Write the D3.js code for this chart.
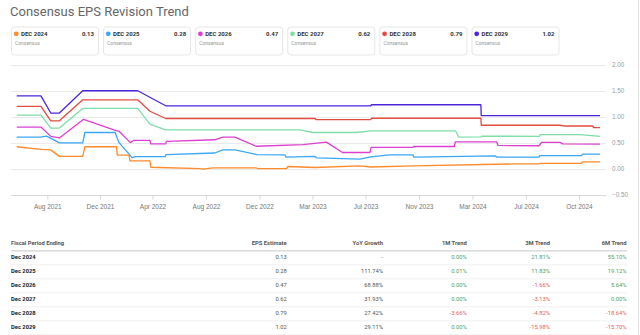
<!DOCTYPE html>
<html>
<head>
<meta charset="utf-8">
<script src="https://cdn.jsdelivr.net/npm/d3@7/dist/d3.min.js"></script>
<style>
  body { margin: 0; background: #fff; }
  svg { font-family: Roboto, "Noto Sans", Arial, sans-serif; display: block; }
</style>
</head>
<body>
<div id="chart"></div>
<script>
const width = 640;
const height = 335;

// consensus estimate history per fiscal year: [date, EPS]
const dec2024 = [
    ["2021-05-21", 0.42], ["2021-07-17", 0.37], ["2021-08-09", 0.36], ["2021-08-29", 0.235],
    ["2021-10-22", 0.235], ["2021-10-27", 0.42], ["2022-01-08", 0.42], ["2022-01-10", 0.26],
    ["2022-02-06", 0.26], ["2022-02-08", 0.15], ["2022-03-26", 0.15], ["2022-03-28", 0.025],
    ["2022-07-18", 0.0], ["2022-07-25", -0.01], ["2022-08-17", 0.015], ["2022-11-23", 0.015],
    ["2022-11-26", 0.0], ["2023-01-16", 0.0], ["2023-01-18", 0.04], ["2023-03-07", 0.02],
    ["2023-06-18", 0.05], ["2023-07-13", 0.03], ["2023-10-18", 0.05], ["2024-06-06", 0.09],
    ["2024-07-24", 0.09], ["2024-07-25", 0.10], ["2024-10-05", 0.10], ["2024-10-07", 0.13],
    ["2024-11-05", 0.13]
];
const dec2025 = [
    ["2021-05-21", 0.605], ["2021-07-17", 0.605], ["2021-07-30", 0.625], ["2021-08-29", 0.495],
    ["2021-10-22", 0.495], ["2021-10-27", 0.695], ["2022-01-05", 0.695], ["2022-01-13", 0.51],
    ["2022-02-13", 0.21], ["2022-02-20", 0.23], ["2022-04-30", 0.23], ["2022-05-02", 0.27],
    ["2022-08-21", 0.30], ["2022-09-08", 0.36], ["2022-10-06", 0.36], ["2022-11-25", 0.27],
    ["2023-01-13", 0.265], ["2023-01-15", 0.22], ["2023-03-07", 0.235], ["2023-03-11", 0.205],
    ["2023-06-18", 0.18], ["2023-07-13", 0.225], ["2023-08-26", 0.265], ["2023-10-18", 0.265],
    ["2023-10-20", 0.22], ["2024-04-21", 0.245], ["2024-04-26", 0.22], ["2024-07-24", 0.22],
    ["2024-07-25", 0.25], ["2024-10-05", 0.25], ["2024-10-07", 0.28], ["2024-11-05", 0.28]
];
const dec2026 = [
    ["2021-05-21", 0.80], ["2021-07-17", 0.80], ["2021-08-09", 0.62], ["2021-08-29", 0.59],
    ["2021-10-24", 0.95], ["2022-01-07", 0.73], ["2022-01-14", 0.72], ["2022-02-09", 0.50],
    ["2022-02-17", 0.545], ["2022-03-26", 0.545], ["2022-03-28", 0.475], ["2022-05-01", 0.475],
    ["2022-05-03", 0.525], ["2022-08-21", 0.555], ["2022-09-08", 0.605], ["2022-10-06", 0.605],
    ["2022-11-23", 0.43], ["2023-02-13", 0.46], ["2023-04-02", 0.51], ["2023-05-09", 0.31],
    ["2023-07-11", 0.31], ["2023-07-14", 0.41], ["2023-10-18", 0.41], ["2023-10-20", 0.425],
    ["2024-01-20", 0.425], ["2024-01-22", 0.515], ["2024-04-25", 0.515], ["2024-04-28", 0.445],
    ["2024-07-24", 0.44], ["2024-07-28", 0.505], ["2024-08-29", 0.505], ["2024-09-03", 0.475],
    ["2024-11-05", 0.47]
];
const dec2027 = [
    ["2021-05-21", 1.03], ["2021-07-17", 1.03], ["2021-08-09", 0.78], ["2021-08-29", 0.78],
    ["2021-10-22", 1.16], ["2022-02-26", 1.16], ["2022-03-26", 0.855], ["2022-05-01", 0.745],
    ["2023-02-08", 0.745], ["2023-03-02", 0.695], ["2023-06-10", 0.695], ["2023-07-13", 0.725],
    ["2024-01-23", 0.725], ["2024-01-30", 0.605], ["2024-03-21", 0.61], ["2024-03-22", 0.625],
    ["2024-07-24", 0.62], ["2024-07-26", 0.655], ["2024-10-03", 0.655], ["2024-11-05", 0.62]
];
const dec2028 = [
    ["2021-05-21", 1.20], ["2021-07-17", 1.20], ["2021-08-09", 0.92], ["2021-08-29", 0.92],
    ["2021-10-22", 1.325], ["2022-02-26", 1.325], ["2022-03-26", 1.105], ["2022-05-01", 0.965],
    ["2023-03-07", 0.965], ["2023-03-09", 0.945], ["2023-07-13", 0.945], ["2023-07-15", 0.97],
    ["2024-03-20", 0.97], ["2024-03-21", 0.835], ["2024-08-29", 0.835], ["2024-09-07", 0.82],
    ["2024-10-24", 0.82], ["2024-10-25", 0.79], ["2024-11-05", 0.79]
];
const dec2029 = [
    ["2021-05-21", 1.40], ["2021-07-17", 1.40], ["2021-08-09", 1.07], ["2021-08-29", 1.07],
    ["2021-10-22", 1.50], ["2022-02-26", 1.50], ["2022-05-01", 1.21], ["2023-07-13", 1.21],
    ["2023-07-15", 1.23], ["2024-03-20", 1.23], ["2024-03-21", 1.02], ["2024-11-05", 1.02]
];

const seriesNames = ["DEC 2024", "DEC 2025", "DEC 2026", "DEC 2027", "DEC 2028", "DEC 2029"];
const seriesColors = ["#ff8a2b", "#3aa6f4", "#de3fd2", "#7edea9", "#e24c3f", "#4c24de"];
const seriesData = [dec2024, dec2025, dec2026, dec2027, dec2028, dec2029];

// axis break points (first / last are the ends of the data)
const axisDates = ["2021-05-21", "2021-08-01", "2021-12-01", "2022-04-01", "2022-08-01",
    "2022-12-01", "2023-03-01", "2023-07-01", "2023-11-01", "2024-03-01", "2024-07-01",
    "2024-10-01", "2024-11-05"];
const tickDates = axisDates.slice(1, -1);
const yTicks = [-0.5, 0, 0.5, 1, 1.5, 2];

// table
const periods = ["Dec 2024", "Dec 2025", "Dec 2026", "Dec 2027", "Dec 2028", "Dec 2029"];
const epsEstimate = [0.13, 0.28, 0.47, 0.62, 0.79, 1.02];
const yoyGrowth = [null, 111.74, 68.88, 31.93, 27.42, 29.11];
const trend1M = [0.00, 0.01, 0.00, 0.00, -3.66, 0.00];
const trend3M = [21.81, 11.83, -1.66, -3.13, -4.82, -15.98];
const trend6M = [55.10, 19.12, 5.64, 0.00, -18.64, -15.70];

const parse = d3.timeParse("%Y-%m-%d");

const svg = d3.select("#chart")
    .append("svg")
    .attr("width", width)
    .attr("height", height);

svg.append("rect").attr("width", width).attr("height", height).attr("fill", "#fff");

// page edge on the right
svg.append("line")
    .attr("x1", 638.5).attr("x2", 638.5)
    .attr("y1", 0).attr("y2", height)
    .attr("stroke", "#e3e3e3");

svg.append("text")
    .attr("x", 10)
    .attr("y", 15.5)
    .attr("font-size", 13)
    .attr("fill", "#666")
    .text("Consensus EPS Revision Trend");

// legend cards
const cards = svg.append("g")
    .selectAll("g")
    .data(seriesNames)
    .join("g")
    .attr("transform", (d, i) => "translate(" + (11.5 + i * 92.1) + ",27)");

cards.append("rect")
    .attr("width", 87)
    .attr("height", 28)
    .attr("rx", 3)
    .attr("fill", "#fff")
    .attr("stroke", "#e6e6e6");

cards.append("circle")
    .attr("cx", 4.7)
    .attr("cy", 6.8)
    .attr("r", 2.4)
    .attr("fill", (d, i) => seriesColors[i]);

cards.append("text")
    .attr("x", 9.5)
    .attr("y", 8.9)
    .attr("font-size", 6)
    .attr("font-weight", "bold")
    .attr("fill", "#333")
    .text(d => d);

cards.append("text")
    .attr("x", 82.5)
    .attr("y", 8.9)
    .attr("text-anchor", "end")
    .attr("font-size", 6)
    .attr("font-weight", "bold")
    .attr("fill", "#333")
    .text((d, i) => epsEstimate[i].toFixed(2));

cards.append("text")
    .attr("x", 3.5)
    .attr("y", 17.5)
    .attr("font-size", 5)
    .attr("fill", "#999")
    .text("Consensus");

// scales
const x = d3.scaleTime()
    .domain(axisDates.map(parse))
    .range([16.7, 47.3, 100, 152.5, 206, 259.5, 312.5, 365.5, 419, 472.5, 526, 579, 600]);

const y = d3.scaleLinear()
    .domain([-0.5, 2])
    .range([194.5, 64.8]);

const plotLeft = 11;
const plotRight = 606;

// grid
svg.append("g")
    .selectAll("line")
    .data(yTicks)
    .join("line")
    .attr("x1", plotLeft)
    .attr("x2", plotRight)
    .attr("y1", d => Math.round(y(d)) + 0.5)
    .attr("y2", d => Math.round(y(d)) + 0.5)
    .attr("stroke", d => d === -0.5 ? "#d8d8d8" : "#ebebeb");

// right axis labels
const yAxis = svg.append("g")
    .attr("transform", "translate(" + plotRight + ",0)")
    .call(d3.axisRight(y).tickValues(yTicks).tickSize(0).tickPadding(6).tickFormat(d3.format(".2f")));
yAxis.select(".domain").remove();
yAxis.selectAll("text").attr("font-size", 6.3).attr("fill", "#999").attr("font-family", null);

// bottom axis
const xAxis = svg.append("g")
    .attr("transform", "translate(0," + (Math.round(y(-0.5)) + 0.5) + ")")
    .call(d3.axisBottom(x).tickValues(tickDates.map(parse)).tickSize(4).tickPadding(5)
        .tickFormat(d3.timeFormat("%b %Y")));
xAxis.select(".domain").remove();
xAxis.selectAll(".tick line").attr("stroke", "#d8d8d8");
xAxis.selectAll("text").attr("font-size", 6.5).attr("fill", "#777").attr("font-family", null);

// revision lines
const line = d3.line()
    .x(d => x(parse(d[0])))
    .y(d => y(d[1]));

svg.append("g")
    .selectAll("path")
    .data(seriesData)
    .join("path")
    .attr("d", line)
    .attr("fill", "none")
    .attr("stroke", (d, i) => seriesColors[i])
    .attr("stroke-width", 1.3)
    .attr("stroke-linejoin", "round");

// table
const tableLeft = 11;
const tableRight = 627;
const headerY = 244.5;
const rowY = 258.5;
const rowStep = 14;

const columns = [
    { title: "EPS Estimate", right: 286.7 },
    { title: "YoY Growth", right: 383 },
    { title: "1M Trend", right: 466.7 },
    { title: "3M Trend", right: 550 },
    { title: "6M Trend", right: 626.5 }
];

const table = svg.append("g").attr("font-size", 5.8);

table.append("text")
    .attr("x", tableLeft)
    .attr("y", headerY)
    .attr("font-weight", "bold")
    .attr("fill", "#555")
    .text("Fiscal Period Ending");

table.selectAll(".col-head")
    .data(columns)
    .join("text")
    .attr("class", "col-head")
    .attr("x", d => d.right)
    .attr("y", headerY)
    .attr("text-anchor", "end")
    .attr("font-weight", "bold")
    .attr("fill", "#555")
    .text(d => d.title);

table.append("rect")
    .attr("x", tableLeft)
    .attr("y", 250)
    .attr("width", tableRight - tableLeft)
    .attr("height", 1.6)
    .attr("fill", "#dcdcdc");

const pct = v => v.toFixed(2) + "%";
const trendColor = v => v < 0 ? "#e0605e" : "#4f9e62";

const rows = table.selectAll(".row")
    .data(periods)
    .join("g")
    .attr("class", "row")
    .attr("transform", (d, i) => "translate(0," + (rowY + i * rowStep) + ")");

rows.append("line")
    .attr("x1", tableLeft)
    .attr("x2", tableRight)
    .attr("y1", 6.3)
    .attr("y2", 6.3)
    .attr("stroke", "#ececec")
    .attr("stroke-width", 0.8);

rows.append("text")
    .attr("x", tableLeft)
    .attr("font-weight", "bold")
    .attr("fill", "#222")
    .text(d => d);

rows.append("text")
    .attr("x", columns[0].right)
    .attr("text-anchor", "end")
    .attr("fill", "#555")
    .text((d, i) => epsEstimate[i].toFixed(2));

rows.append("text")
    .attr("x", columns[1].right)
    .attr("text-anchor", "end")
    .attr("fill", "#555")
    .text((d, i) => yoyGrowth[i] === null ? "-" : pct(yoyGrowth[i]));

[trend1M, trend3M, trend6M].forEach((trend, k) => {
    rows.append("text")
        .attr("x", columns[k + 2].right)
        .attr("text-anchor", "end")
        .attr("fill", (d, i) => trendColor(trend[i]))
        .text((d, i) => pct(trend[i]));
});
</script>
</body>
</html>
